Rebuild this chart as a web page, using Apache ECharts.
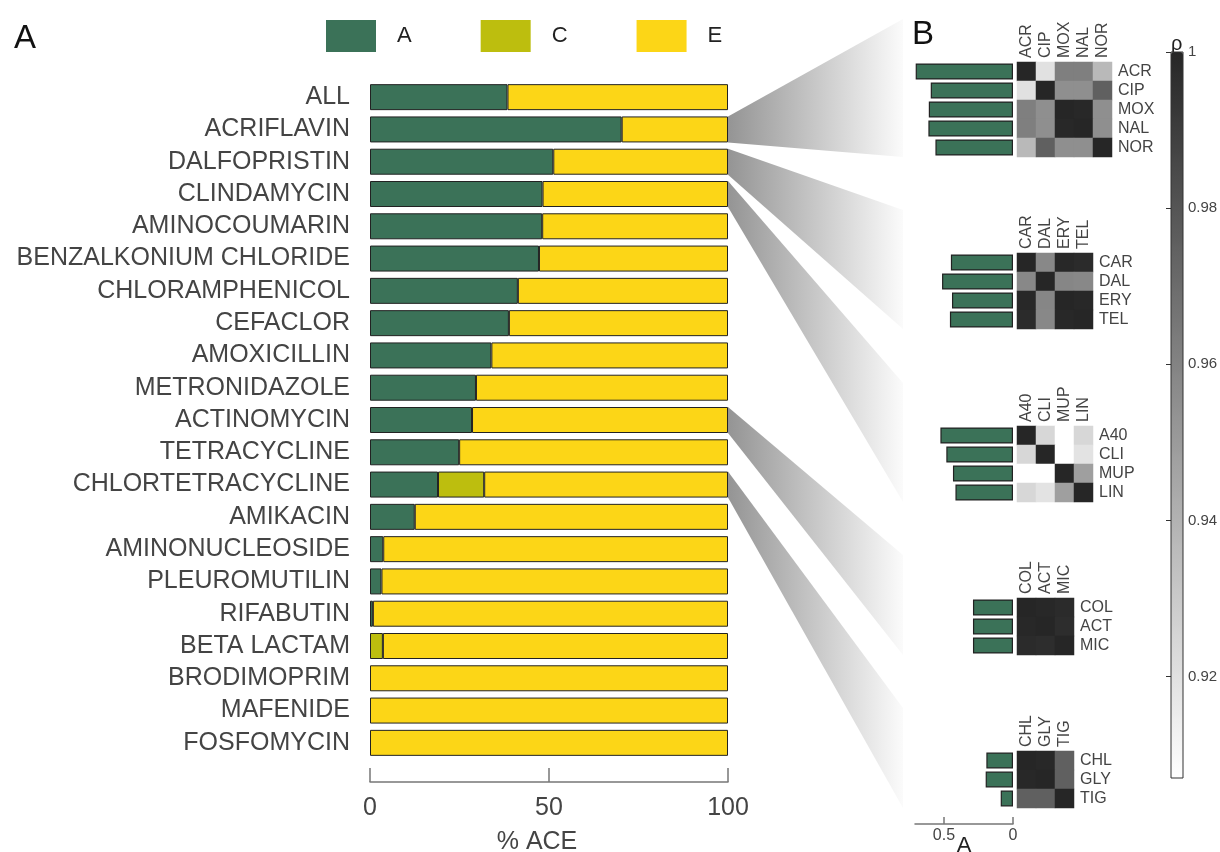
<!DOCTYPE html>
<html>
<head>
<meta charset="utf-8">
<script src="https://cdn.jsdelivr.net/npm/echarts@6/dist/echarts.min.js"></script>
<style>
  html, body { margin: 0; padding: 0; background: #fff; }
  #main { width: 1220px; height: 852px; }
</style>
</head>
<body>
<div id="main"></div>
<script>
// ---- panel A : share of each class per drug ----
var drugs = ['ALL', 'ACRIFLAVIN', 'DALFOPRISTIN', 'CLINDAMYCIN', 'AMINOCOUMARIN', 'BENZALKONIUM CHLORIDE',
  'CHLORAMPHENICOL', 'CEFACLOR', 'AMOXICILLIN', 'METRONIDAZOLE', 'ACTINOMYCIN', 'TETRACYCLINE',
  'CHLORTETRACYCLINE', 'AMIKACIN', 'AMINONUCLEOSIDE', 'PLEUROMUTILIN', 'RIFABUTIN', 'BETA LACTAM',
  'BRODIMOPRIM', 'MAFENIDE', 'FOSFOMYCIN'];
var shareA = [38.4, 70.3, 51.2, 48.2, 48.1, 47.2, 41.3, 38.8, 33.9, 29.6, 28.5, 24.9, 19.0, 12.5, 3.7, 3.2, 0.8, 0, 0, 0, 0];
var shareC = [0, 0, 0, 0, 0, 0, 0, 0, 0, 0, 0, 0, 12.9, 0, 0, 0, 0, 3.6, 0, 0, 0];
var shareE = [61.6, 29.7, 48.8, 51.8, 51.9, 52.8, 58.7, 61.2, 66.1, 70.4, 71.5, 75.1, 68.1, 87.5, 96.3, 96.8, 99.2, 96.4, 100, 100, 100];
var aceTicks = [0, 50, 100];

// ---- panel B : A fraction + correlation per group ----
var g1Names = ['ACR', 'CIP', 'MOX', 'NAL', 'NOR'];
var g1A = [0.705, 0.596, 0.61, 0.613, 0.562];
var g1Rho = [
  [1.000, 0.920, 0.962, 0.962, 0.937],
  [0.920, 1.000, 0.955, 0.955, 0.975],
  [0.962, 0.955, 1.000, 0.999, 0.955],
  [0.962, 0.955, 0.999, 1.000, 0.955],
  [0.937, 0.975, 0.955, 0.955, 1.000]
];
var g2Names = ['CAR', 'DAL', 'ERY', 'TEL'];
var g2A = [0.45, 0.514, 0.442, 0.457];
var g2Rho = [
  [1.000, 0.958, 0.999, 0.998],
  [0.958, 1.000, 0.959, 0.958],
  [0.999, 0.959, 1.000, 0.999],
  [0.998, 0.958, 0.999, 1.000]
];
var g3Names = ['A40', 'CLI', 'MUP', 'LIN'];
var g3A = [0.526, 0.483, 0.435, 0.417];
var g3Rho = [
  [1.000, 0.924, 0.907, 0.924],
  [0.924, 1.000, 0.907, 0.919],
  [0.907, 0.907, 1.000, 0.948],
  [0.924, 0.919, 0.948, 1.000]
];
var g4Names = ['COL', 'ACT', 'MIC'];
var g4A = [0.29, 0.29, 0.29];
var g4Rho = [
  [1.000, 0.999, 0.998],
  [0.999, 1.000, 0.997],
  [0.998, 0.997, 1.000]
];
var g5Names = ['CHL', 'GLY', 'TIG'];
var g5A = [0.193, 0.198, 0.089];
var g5Rho = [
  [1.000, 0.999, 0.975],
  [0.999, 1.000, 0.975],
  [0.975, 0.975, 1.000]
];
var bTicks = [0, 0.5];
var rhoTicks = [0.92, 0.94, 0.96, 0.98, 1];
var rhoMin = 0.907, rhoMax = 1;
// which drug of panel A each group is zoomed from
var wedgeFrom = ['ACRIFLAVIN', 'DALFOPRISTIN', 'CLINDAMYCIN', 'ACTINOMYCIN', 'CHLORTETRACYCLINE'];

var groups = [
  { names: g1Names, a: g1A, rho: g1Rho },
  { names: g2Names, a: g2A, rho: g2Rho },
  { names: g3Names, a: g3A, rho: g3Rho },
  { names: g4Names, a: g4A, rho: g4Rho },
  { names: g5Names, a: g5A, rho: g5Rho }
];

// layout
var FONT = 'Liberation Sans, Arial, Helvetica, sans-serif';
var GREEN = '#3b7258', OLIVE = '#bdbe0e', YELLOW = '#fcd617';
var TXT = '#444';
var gridA = { left: 370, top: 81, width: 358, height: 678, outerBoundsMode: 'none' };
var bTops = [62, 253, 426, 598, 751];
var cell = 19, bBarLeft = 915, bBarW = 98, bHeatLeft = 1017;

function nz(v) { return v === 0 ? '-' : v; }

var grids = [gridA];
var xAxes = [{
  gridIndex: 0, type: 'value', min: 0, max: 100, interval: 50, offset: 23,
  axisLine: { show: true, lineStyle: { color: '#777', width: 1.5 } },
  axisTick: { show: true, inside: true, length: 14, customValues: aceTicks, lineStyle: { color: '#777', width: 1.5 } },
  axisLabel: { fontSize: 25, color: TXT, margin: 14, customValues: aceTicks },
  splitLine: { show: false },
  name: '% ACE', nameLocation: 'middle', nameGap: 48,
  nameTextStyle: { fontSize: 25, color: TXT, padding: [0, 24, 0, 0] }
}];
var yAxes = [{
  gridIndex: 0, type: 'category', data: drugs, inverse: true,
  axisLine: { show: false }, axisTick: { show: false },
  axisLabel: { fontSize: 25, color: TXT, margin: 20, interval: 0 }
}];

var series = [
  { name: 'A', type: 'bar', stack: 'tot', data: shareA.map(nz), xAxisIndex: 0, yAxisIndex: 0, barWidth: 26,
    itemStyle: { color: GREEN, borderColor: '#222', borderWidth: 1 } },
  { name: 'C', type: 'bar', stack: 'tot', data: shareC.map(nz), xAxisIndex: 0, yAxisIndex: 0, barWidth: 26,
    itemStyle: { color: OLIVE, borderColor: '#222', borderWidth: 1 } },
  { name: 'E', type: 'bar', stack: 'tot', data: shareE.map(nz), xAxisIndex: 0, yAxisIndex: 0, barWidth: 26,
    itemStyle: { color: YELLOW, borderColor: '#222', borderWidth: 1 } }
];
var heatSeries = [];

groups.forEach(function (g, k) {
  var n = g.names.length;
  var bi = grids.length;
  grids.push({ left: bBarLeft, top: bTops[k], width: bBarW, height: n * cell, outerBoundsMode: 'none' });
  grids.push({ left: bHeatLeft, top: bTops[k], width: n * cell, height: n * cell, outerBoundsMode: 'none' });
  var last = k === groups.length - 1;
  xAxes.push({
    gridIndex: bi, type: 'value', min: 0, max: 0.71, inverse: true,
    show: last, offset: 16,
    axisLine: { show: true, lineStyle: { color: '#777', width: 1.5 } },
    axisTick: { show: true, inside: true, length: 7, customValues: bTicks, lineStyle: { color: '#777', width: 1.5 } },
    axisLabel: { fontSize: 16, color: TXT, margin: 4, customValues: bTicks,
      formatter: function (v) { return String(v); } },
    splitLine: { show: false },
    name: last ? 'A' : '', nameLocation: 'middle', nameGap: 11, nameMoveOverlap: false,
    nameTextStyle: { fontSize: 22, color: '#222' }
  });
  yAxes.push({
    gridIndex: bi, type: 'category', data: g.names, inverse: true, show: false
  });
  xAxes.push({
    gridIndex: bi + 1, type: 'category', data: g.names, position: 'top',
    axisLine: { show: false }, axisTick: { show: false },
    axisLabel: { rotate: -90, fontSize: 16, color: TXT, margin: 4, interval: 0 }
  });
  yAxes.push({
    gridIndex: bi + 1, type: 'category', data: g.names, inverse: true, position: 'right',
    axisLine: { show: false }, axisTick: { show: false },
    axisLabel: { fontSize: 16, color: TXT, margin: 6, interval: 0 }
  });
  series.push({
    type: 'bar', data: g.a, xAxisIndex: bi, yAxisIndex: bi, barWidth: 16,
    itemStyle: { color: GREEN, borderColor: '#222', borderWidth: 1.2 }
  });
  var cells = [];
  g.rho.forEach(function (row, i) {
    row.forEach(function (v, j) { cells.push([j, i, v]); });
  });
  heatSeries.push({
    type: 'heatmap', data: cells, xAxisIndex: bi + 1, yAxisIndex: bi + 1,
    emphasis: { disabled: true }
  });
});

// colour bar axis
var cbIndex = grids.length;
grids.push({ left: 1171, top: 52, width: 12, height: 726, show: true, borderColor: '#333', borderWidth: 1,
  backgroundColor: 'transparent', z: 10, outerBoundsMode: 'none' });
xAxes.push({ gridIndex: cbIndex, type: 'value', show: false });
yAxes.push({
  gridIndex: cbIndex, type: 'value', min: rhoMin, max: rhoMax, position: 'right',
  axisLine: { show: false },
  axisTick: { show: true, inside: true, length: 5, customValues: rhoTicks, lineStyle: { color: '#333' } },
  axisLabel: { fontSize: 15, color: TXT, margin: 5, customValues: rhoTicks,
    formatter: function (v) { return v === 1 ? '1' : v.toFixed(2); } },
  splitLine: { show: false },
  name: 'ρ', nameLocation: 'end', nameGap: -2,
  nameTextStyle: { fontSize: 20, color: '#222', align: 'left' }
});

var firstHeat = series.length;
series = series.concat(heatSeries);
var heatIdx = heatSeries.map(function (s, i) { return firstHeat + i; });

var option = {
  animation: false,
  backgroundColor: '#fff',
  textStyle: { fontFamily: FONT },
  title: [
    { text: 'A', left: 14, top: 22, padding: 0, textStyle: { fontSize: 33, fontWeight: 'normal', color: '#111', fontFamily: FONT } },
    { text: 'B', left: 912, top: 18, padding: 0, textStyle: { fontSize: 33, fontWeight: 'normal', color: '#111', fontFamily: FONT } }
  ],
  legend: {
    data: ['A', 'C', 'E'], left: 326, top: 20, padding: 0,
    itemWidth: 50, itemHeight: 32, itemGap: 69, icon: 'rect', selectedMode: false,
    itemStyle: { borderWidth: 0 },
    textStyle: { fontSize: 22, color: '#222', padding: [0, 0, 0, 16] }
  },
  grid: grids,
  xAxis: xAxes,
  yAxis: yAxes,
  visualMap: {
    type: 'continuous', min: rhoMin, max: rhoMax, seriesIndex: heatIdx, dimension: 2,
    inRange: { color: ['#ffffff', '#262626'] },
    left: 1171, top: 52, itemWidth: 12, itemHeight: 726, padding: 0,
    calculable: false, hoverLink: false, orient: 'vertical', show: true
  },
  series: series
};

var chart = echarts.init(document.getElementById('main'));
chart.setOption(option);

// shaded wedges linking a bar of panel A to its group in panel B
var wedges = wedgeFrom.map(function (d, k) {
  var p = chart.convertToPixel({ gridIndex: 0 }, [100, drugs.indexOf(d)]);
  var n = groups[k].names.length;
  var xr = bBarLeft - 12;
  return {
    type: 'polygon', silent: true, z: 1,
    shape: { points: [[p[0], p[1] - 13], [xr, bTops[k] - 43], [xr, bTops[k] + n * cell], [p[0], p[1] + 13]] },
    style: {
      fill: new echarts.graphic.LinearGradient(0, 0, 1, 0, [
        { offset: 0, color: '#949494' },
        { offset: 1, color: '#fbfbfb' }
      ])
    }
  };
});
chart.setOption({ graphic: wedges });
</script>
</body>
</html>
